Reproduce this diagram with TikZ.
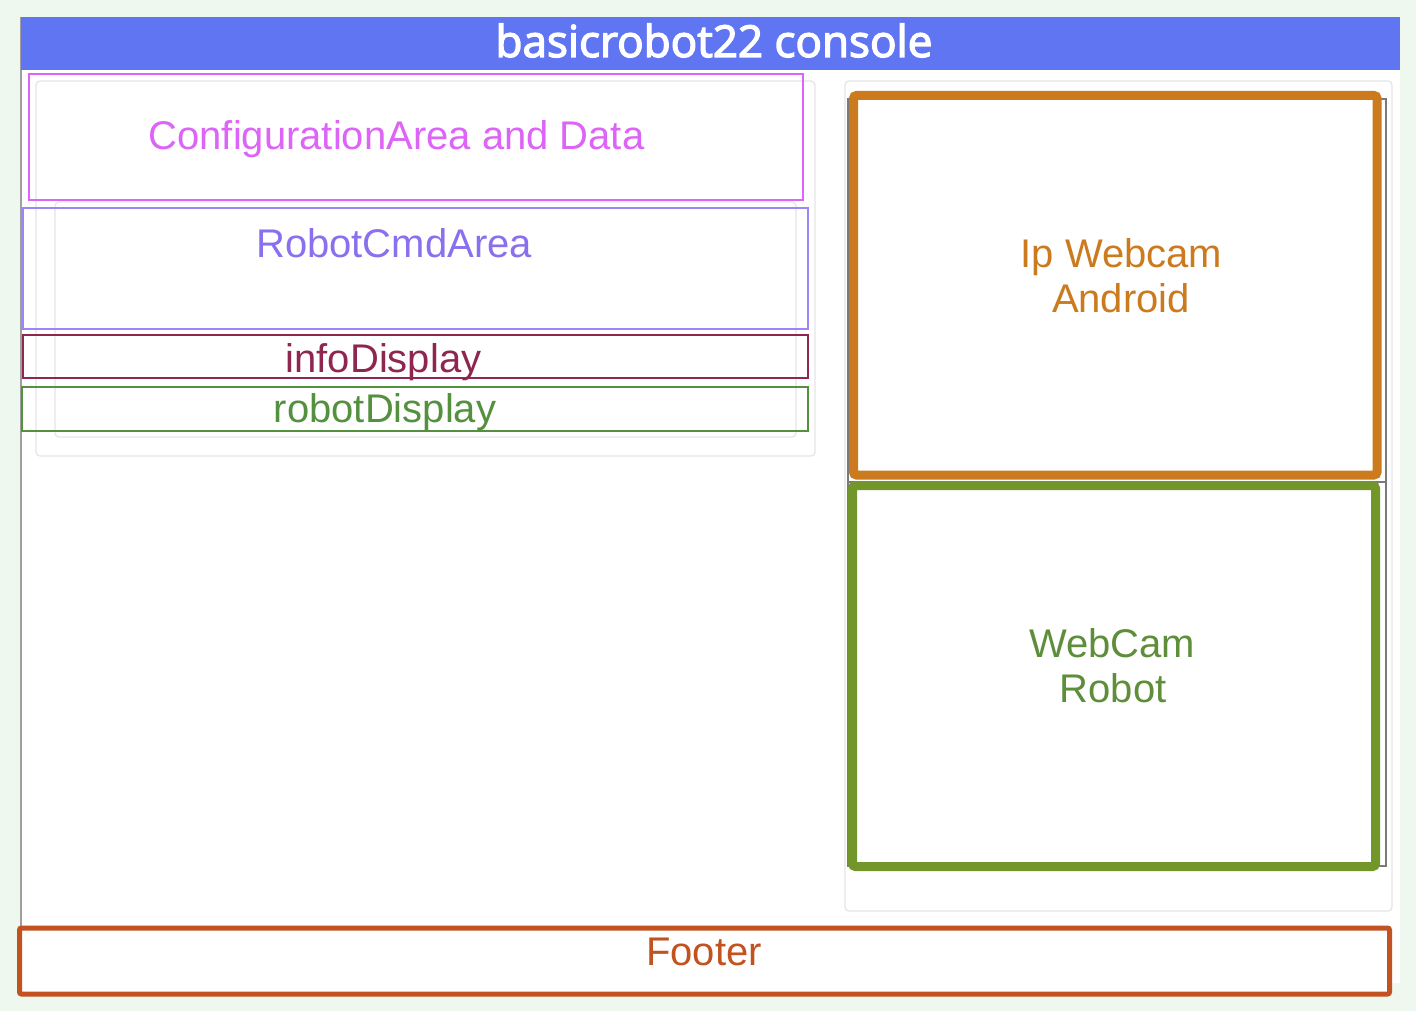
\documentclass[tikz,border=0pt]{standalone}
\usepackage{fontspec}
\setmainfont{Liberation Sans}
\newfontfamily\titlefont[FakeBold=3]{Open Sans}
\definecolor{pagebg}{HTML}{EFF8EE}
\definecolor{titleblue}{HTML}{5F75F2}
\definecolor{cfgpink}{HTML}{DC64F7}
\definecolor{cmdviolet}{HTML}{9A86F7}
\definecolor{cmdtext}{HTML}{8A70EE}
\definecolor{infored}{HTML}{8E2650}
\definecolor{dispgreen}{HTML}{54913F}
\definecolor{camorange}{HTML}{CC7A1E}
\definecolor{camolive}{HTML}{72962A}
\definecolor{camtext}{HTML}{5E8E3A}
\definecolor{footred}{HTML}{C2521F}
\definecolor{panelgray}{HTML}{E6E6E6}
\definecolor{framegray}{HTML}{7A7A7A}
\begin{document}
\begin{tikzpicture}[x=1pt,y=-1pt,
  lbl/.style={anchor=base, inner sep=0pt, font=\fontsize{40}{44}\selectfont},
  panel/.style={draw=panelgray, line width=1.3pt, rounded corners=4pt},
  thinbox/.style={line width=2.2pt},
  camframe/.style={line width=9pt, rounded corners=3pt}]

% page and white console area
\fill[pagebg] (0,0) rectangle (1416,1011);
\fill[white] (21,17) rectangle (1400,983);
\draw[gray!75, line width=1.5pt] (21,17) -- (21,926);

% title bar
\fill[titleblue] (21,17) rectangle (1400,70);
\node[anchor=base, inner sep=0pt, text=white,
      font=\titlefont\fontsize{44}{46}\selectfont] (title) at (714,57) {basicrobot22 console};

% faint card outlines
\draw[panel] (36,81) rectangle (815,456);
\draw[panel] (55,202) rectangle (796,437);
\draw[panel] (845,81) rectangle (1392,911);

% thin frames behind the two camera views
\draw[framegray, line width=1.2pt] (848,99) rectangle (1386,482);
\draw[framegray, line width=1.2pt] (848,482) rectangle (1386,866);

% left column areas
\draw[thinbox, cfgpink] (29,74) rectangle (803,200);
\node[lbl, text=cfgpink] (cfg) at (396.5,150) {ConfigurationArea and Data};

\draw[thinbox, cmdviolet] (23,208) rectangle (808,329);
\node[lbl, text=cmdtext] (cmd) at (394,257) {RobotCmdArea};

\draw[thinbox, infored] (23,335) rectangle (808,378);
\node[lbl, text=infored] (info) at (383.5,372) {infoDisplay};

\draw[thinbox, dispgreen] (22,387) rectangle (808,431);
\node[lbl, text=dispgreen] (robotdisp) at (385,422) {robotDisplay};

% camera views
\draw[camframe, camorange, fill=white] (853.5,95.5) rectangle (1377,475);
\node[lbl, text=camorange] (ipcamA) at (1121.5,267) {Ip Webcam};
\node[lbl, text=camorange] (ipcamB) at (1121,312) {Android};

\draw[camframe, camolive, fill=white] (852.5,485.5) rectangle (1375.5,866.5);
\node[lbl, text=camtext] (robcamA) at (1112,657) {WebCam};
\node[lbl, text=camtext] (robcamB) at (1113,702) {Robot};

% footer
\draw[footred, line width=5pt, rounded corners=2pt, fill=white] (19.5,928) rectangle (1389.5,994);
\node[lbl, text=footred] (footer) at (704,965) {Footer};
\end{tikzpicture}
\end{document}
